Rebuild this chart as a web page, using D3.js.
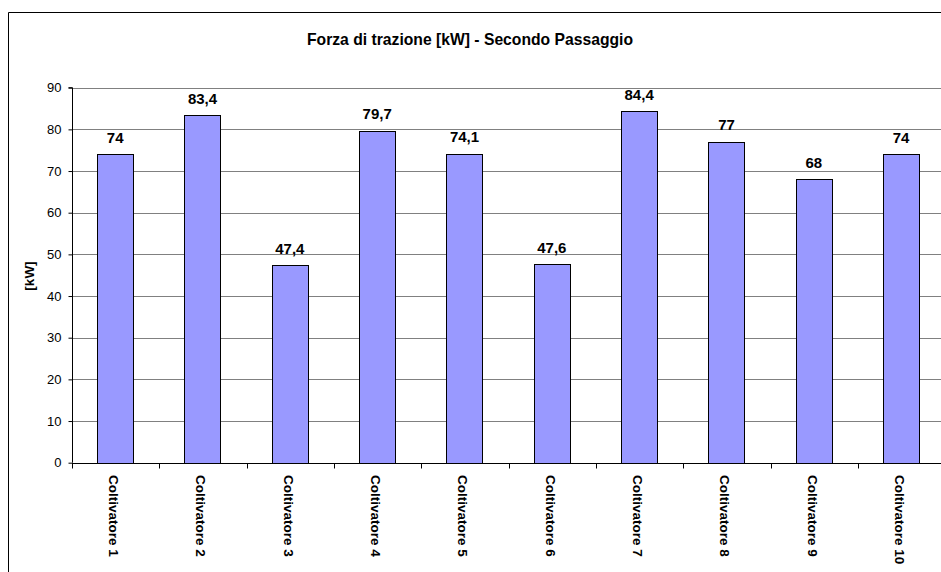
<!DOCTYPE html>
<html><head><meta charset="utf-8">
<script src="https://cdn.jsdelivr.net/npm/d3@7"></script>
<style>
html,body{margin:0;padding:0;background:#fff;}
svg{display:block;font-family:Arial,"Liberation Sans",sans-serif;}
</style></head>
<body>
<script>
const categories = ["Coltivatore 1","Coltivatore 2","Coltivatore 3","Coltivatore 4","Coltivatore 5","Coltivatore 6","Coltivatore 7","Coltivatore 8","Coltivatore 9","Coltivatore 10"];
const values = [74, 83.4, 47.4, 79.7, 74.1, 47.6, 84.4, 77, 68, 74];
const valueLabels = ["74","83,4","47,4","79,7","74,1","47,6","84,4","77","68","74"];
const yTicks = [0,10,20,30,40,50,60,70,80,90];
const title = "Forza di trazione [kW] - Secondo Passaggio";
const yTitle = "[kW]";

const W = 941, H = 572;
const svg = d3.select("body").append("svg").attr("width", W).attr("height", H);

// outer chart border (cropped at right and bottom)
svg.append("path").attr("d", "M8.5,700 V12.5 H1000").attr("fill","none").attr("stroke","#000").attr("stroke-width",1);

const pL = 72, pT = 87.7, pB = 462.7, pR = 945.3;
const x = d3.scaleBand().domain(categories).range([pL, pR]).paddingInner(0.587).paddingOuter(0.2935);
const xb = d3.scaleBand().domain(categories).range([pL, pR]);
const y = d3.scaleLinear().domain([0, 90]).range([pB, pT]);

// gridlines
svg.append("g").selectAll("line").data(yTicks.filter(d => d > 0)).join("line")
  .attr("x1", pL).attr("x2", W+10)
  .attr("y1", d => Math.round(y(d))+0.5).attr("y2", d => Math.round(y(d))+0.5)
  .attr("stroke", "#808080").attr("stroke-width", 1);

// bars
svg.append("g").selectAll("rect").data(values).join("rect")
  .attr("x", (d,i) => Math.floor(x(categories[i]))+0.5)
  .attr("y", d => Math.round(y(d))+0.5)
  .attr("width", Math.round(x.bandwidth()))
  .attr("height", d => Math.round(y(0)) - Math.round(y(d)))
  .attr("fill", "#9999FF").attr("stroke", "#000").attr("stroke-width", 1);

// value labels
svg.append("g").selectAll("text").data(values).join("text")
  .attr("x", (d,i) => x(categories[i]) + x.bandwidth()/2 - 0.5)
  .attr("y", d => y(d) - 11.5)
  .attr("text-anchor", "middle")
  .attr("font-size", "15px").attr("font-weight", "bold")
  .text((d,i) => valueLabels[i]);

// y axis
const yAxis = d3.axisLeft(y).tickValues(yTicks).tickSize(4).tickPadding(7).tickFormat(d3.format("d"));
const gy = svg.append("g").attr("transform", `translate(${pL+0.5},0)`).call(yAxis);
gy.select(".domain").attr("stroke", "#000").attr("d", `M-4,${pT}H0V${pB}`);
gy.selectAll(".tick line").attr("stroke", "#000");
gy.selectAll(".tick text").attr("font-size", "13px").attr("fill", "#000").attr("font-family", "Arial, 'Liberation Sans', sans-serif");

// x axis
const gx = svg.append("g").attr("transform", `translate(0,${Math.round(pB)+0.5})`);
gx.append("line").attr("x1", pL).attr("x2", W+10).attr("stroke", "#000");
gx.selectAll("line.tk").data(categories.concat(["_end"])).join("line").attr("class","tk")
  .attr("x1", (d,i) => Math.round(pL + i*xb.bandwidth())+0.5)
  .attr("x2", (d,i) => Math.round(pL + i*xb.bandwidth())+0.5)
  .attr("y1", 0).attr("y2", 5).attr("stroke", "#000");
gx.selectAll("text").data(categories).join("text")
  .attr("transform", d => `translate(${xb(d) + xb.bandwidth()/2 - 2},11.5) rotate(90)`)
  .attr("dy", "0.35em")
  .attr("text-anchor", "start")
  .attr("font-size", "13.5px").attr("font-weight", "bold")
  .text(d => d);

// titles
svg.append("text").attr("x", 470).attr("y", 45).attr("text-anchor", "middle")
  .attr("font-size", "15.7px").attr("font-weight", "bold").text(title);
svg.append("text").attr("transform", `translate(34,276) rotate(-90)`).attr("text-anchor", "middle")
  .attr("font-size", "13.5px").attr("font-weight", "bold").text(yTitle);
</script>
</body></html>
